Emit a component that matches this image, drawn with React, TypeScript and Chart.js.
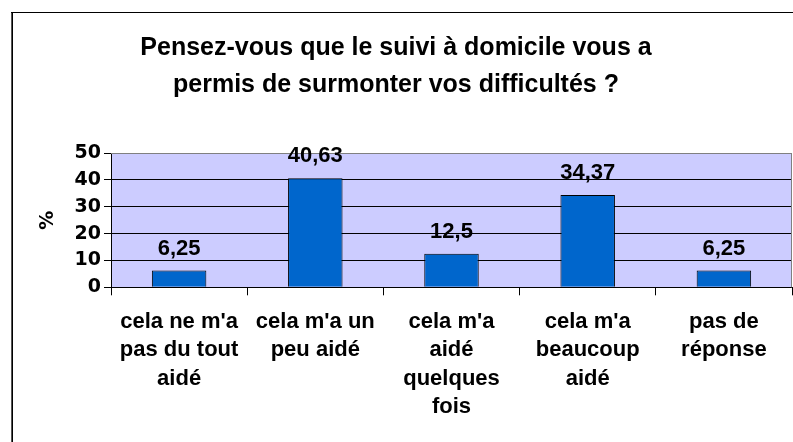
import React, { useEffect, useRef } from "react";
import { Chart, registerables } from "chart.js";

Chart.register(...registerables);

const titleLines = [
  "Pensez-vous que le suivi à domicile vous a",
  "permis de surmonter vos difficultés ?",
];
const categories = [
  ["cela ne m'a", "pas du tout", "aidé"],
  ["cela m'a un", "peu aidé"],
  ["cela m'a", "aidé", "quelques", "fois"],
  ["cela m'a", "beaucoup", "aidé"],
  ["pas de", "réponse"],
];
const values = [6.25, 40.63, 12.5, 34.37, 6.25];
const yMin = 0;
const yMax = 50;
const yStep = 10;
const yLabel = "%";

const FONT = "'Liberation Sans', Arial, Helvetica, sans-serif";
const TICK_FONT = "'DejaVu Sans', 'Liberation Sans', Arial, sans-serif";

const fmt = (v: number) => String(v).replace(".", ",");

const framePlugin = {
  id: "frame",
  beforeDraw(chart: any) {
    const { ctx, chartArea } = chart;
    ctx.save();
    ctx.fillStyle = "#ffffff";
    ctx.fillRect(0, 0, chart.width, chart.height);
    ctx.fillStyle = "#CCCCFF";
    ctx.fillRect(chartArea.left, chartArea.top, chartArea.right - chartArea.left, chartArea.bottom - chartArea.top);
    ctx.restore();
  },
  beforeDatasetsDraw(chart: any) {
    const { ctx, chartArea } = chart;
    ctx.save();
    ctx.strokeStyle = "#808080";
    ctx.lineWidth = 1;
    ctx.beginPath();
    ctx.moveTo(chartArea.left, chartArea.top + 0.5);
    ctx.lineTo(chartArea.right - 0.5, chartArea.top + 0.5);
    ctx.lineTo(chartArea.right - 0.5, chartArea.bottom);
    ctx.stroke();
    ctx.restore();
  },
  afterDraw(chart: any) {
    const { ctx } = chart;
    ctx.save();
    ctx.fillStyle = "#555555";
    ctx.fillRect(11, 12, 1, chart.height);
    ctx.fillStyle = "#000000";
    ctx.fillRect(12, 12, 1, chart.height);
    ctx.fillRect(11, 12, chart.width, 1);
    ctx.restore();
  },
};

const valueLabelPlugin = {
  id: "valueLabels",
  afterDatasetsDraw(chart: any) {
    const { ctx } = chart;
    const meta = chart.getDatasetMeta(0);
    ctx.save();
    ctx.font = `bold 22px ${FONT}`;
    ctx.fillStyle = "#000000";
    ctx.textAlign = "center";
    ctx.textBaseline = "alphabetic";
    meta.data.forEach((bar: any, i: number) => {
      ctx.fillText(fmt(values[i]), bar.x, bar.y - 16);
    });
    ctx.restore();
  },
};

export default function App() {
  const ref = useRef<HTMLCanvasElement | null>(null);

  useEffect(() => {
    if (!ref.current) return;
    const chart = new Chart(ref.current, {
      type: "bar",
      data: {
        labels: categories,
        datasets: [
          {
            data: values,
            backgroundColor: "#0066CC",
            borderColor: "#000000",
            borderWidth: 1,
            categoryPercentage: 1,
            barPercentage: 0.4,
          },
        ],
      },
      options: {
        responsive: false,
        animation: false,
        devicePixelRatio: 1,
        layout: { padding: { top: 0, left: 0, right: 1, bottom: 0 } },
        plugins: {
          legend: { display: false },
          tooltip: { enabled: false },
          title: {
            display: true,
            text: titleLines,
            color: "#000000",
            font: { family: FONT, size: 25, weight: "bold", lineHeight: 1.49 },
            padding: { top: 29, bottom: 49.5 },
          },
        },
        scales: {
          x: {
            grid: {
              offset: true,
              drawOnChartArea: false,
              drawTicks: true,
              tickLength: 8,
              color: "#000000",
              tickColor: "#000000",
            },
            border: { display: true, color: "#000000", width: 1 },
            ticks: {
              color: "#000000",
              padding: 12,
              maxRotation: 0,
              autoSkip: false,
              font: { family: FONT, size: 22, weight: "bold", lineHeight: 1.3 },
            },
            afterFit(scale: any) {
              scale.height = 154.7;
            },
          },
          y: {
            min: yMin,
            max: yMax,
            ticks: {
              stepSize: yStep,
              autoSkip: false,
              color: "#000000",
              padding: 3,
              font: { family: TICK_FONT, size: 19, weight: "bold" },
            },
            grid: {
              drawTicks: true,
              tickLength: 7,
              color: (c: any) => (c.tick && c.tick.value === yMax ? "#808080" : "#000000"),
              tickColor: "#000000",
            },
            border: { display: true, color: "#000000", width: 1 },
            title: {
              display: true,
              text: yLabel,
              color: "#000000",
              font: { family: TICK_FONT, size: 19, weight: "bold", lineHeight: 1.2 },
              padding: { top: 37, bottom: 0 },
            },
            afterFit(scale: any) {
              scale.width = 111;
            },
          },
        },
      },
      plugins: [framePlugin, valueLabelPlugin],
    });
    return () => chart.destroy();
  }, []);

  return (
    <div style={{ position: "fixed", left: 0, top: 0, width: 793, height: 442, background: "#fff" }}>
      <canvas ref={ref} width={793} height={442} style={{ width: 793, height: 442, display: "block" }} />
    </div>
  );
}
